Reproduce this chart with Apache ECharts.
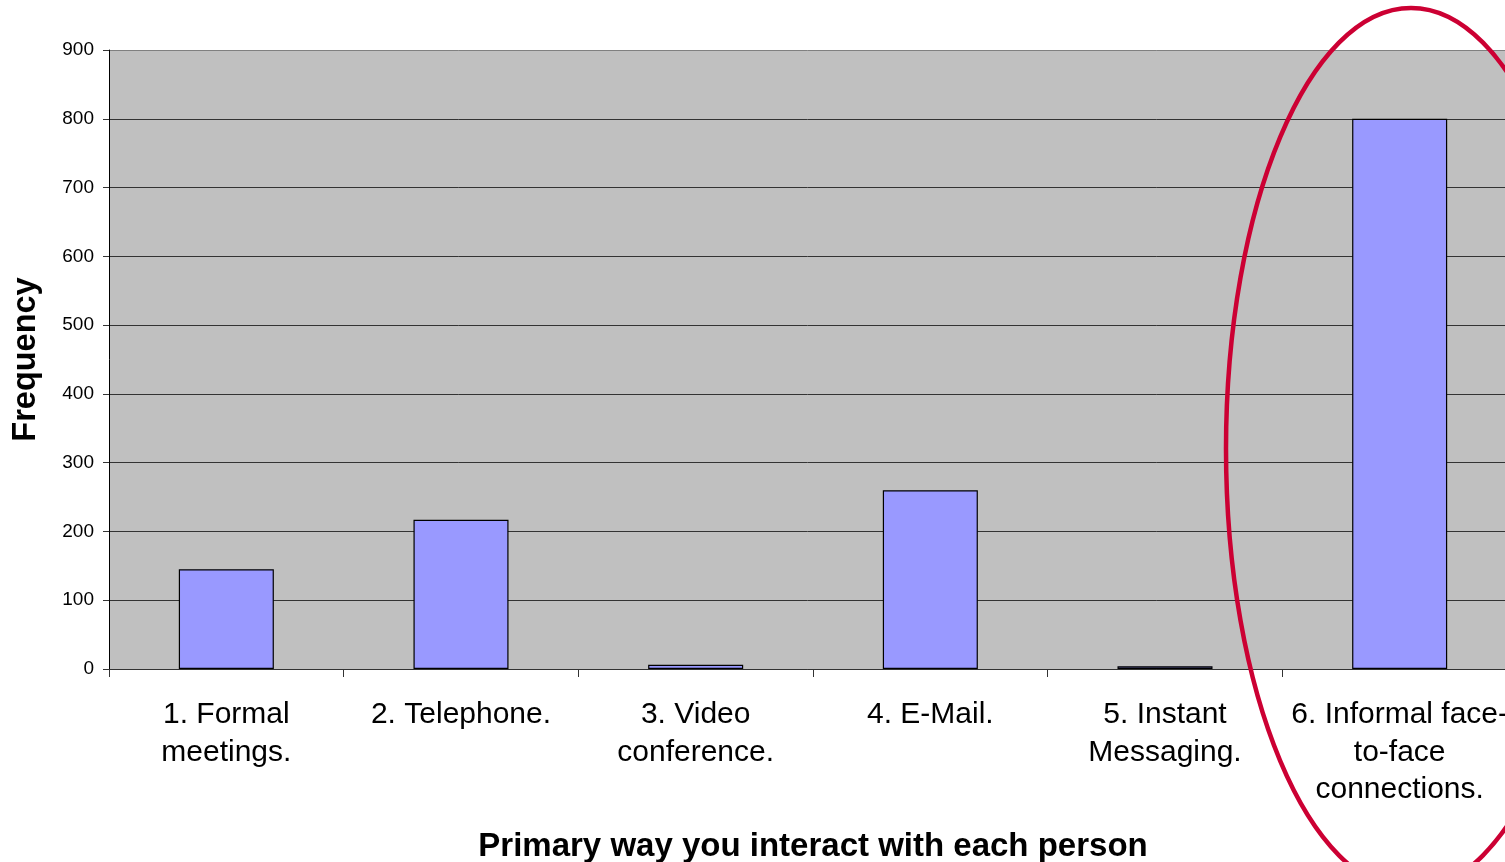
<!DOCTYPE html>
<html>
<head>
<meta charset="utf-8">
<script src="https://cdn.jsdelivr.net/npm/echarts@6/dist/echarts.min.js"></script>
<style>html,body{margin:0;padding:0;background:#fff;}#c{width:1505px;height:862px;}</style>
</head>
<body>
<div id="c"></div>
<script>
const categories = ["1. Formal\nmeetings.", "2. Telephone.", "3. Video\nconference.", "4. E-Mail.", "5. Instant\nMessaging.", "6. Informal face-\nto-face\nconnections."];
const frequency = [145, 217, 6, 260, 4, 800];
const xTitle = "Primary way you interact with each person";
const yTitle = "Frequency";

const chart = echarts.init(document.getElementById('c'), null, {renderer: 'canvas'});
const font = '"Liberation Sans", Arial, sans-serif';
const splitColors = ['#333','#333','#333','#333','#333','#333','#333','#333','#333','#808080'];
chart.setOption({
  animation: false,
  backgroundColor: '#ffffff',
  grid: {left: 109, top: 50, width: 1408, height: 619, show: true, backgroundColor: '#C0C0C0', borderWidth: 0, containLabel: false, outerBoundsMode: 'none'},
  xAxis: {
    type: 'category',
    data: categories,
    name: xTitle,
    nameLocation: 'middle',
    nameGap: 161,
    nameTextStyle: {fontFamily: font, fontSize: 33, fontWeight: 'bold', color: '#000'},
    axisLine: {show: true, lineStyle: {color: '#333', width: 1}},
    axisTick: {show: true, length: 8, interval: 0, lineStyle: {color: '#333'}},
    axisLabel: {interval: 0, margin: 27, fontFamily: font, fontSize: 30, lineHeight: 37.5, color: '#000', align: 'center'},
    splitLine: {show: false}
  },
  yAxis: {
    type: 'value',
    min: 0, max: 900, interval: 100,
    name: yTitle,
    nameLocation: 'middle',
    nameGap: 66,
    nameTextStyle: {fontFamily: font, fontSize: 32.5, fontWeight: 'bold', color: '#000'},
    axisLine: {show: true, lineStyle: {color: '#000', width: 1}},
    axisTick: {show: true, length: 6, lineStyle: {color: '#333'}},
    axisLabel: {margin: 15, fontFamily: font, fontSize: 19, color: '#000'},
    splitLine: {show: true, lineStyle: {color: splitColors, width: 1}}
  },
  series: [{
    type: 'bar',
    data: frequency,
    barWidth: '40.5%',
    itemStyle: {color: '#9999FF', borderColor: '#000', borderWidth: 1.2}
  }],
  graphic: [{
    type: 'ellipse',
    z: 100,
    shape: {cx: 1411, cy: 449, rx: 185, ry: 441},
    style: {fill: 'none', stroke: '#CC0033', lineWidth: 4.5}
  }]
});
</script>
</body>
</html>
